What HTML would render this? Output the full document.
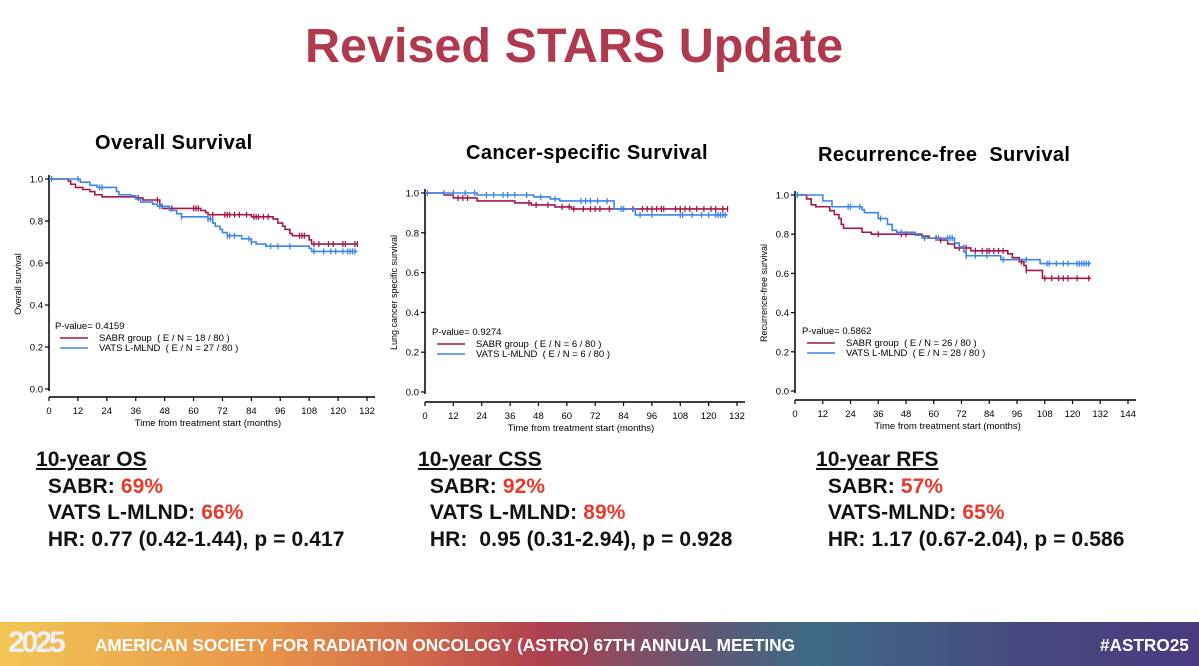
<!DOCTYPE html>
<html><head><meta charset="utf-8"><style>
body{margin:0;width:1199px;height:666px;background:#fff;position:relative;overflow:hidden;font-family:"Liberation Sans",Arial,sans-serif}
.t{position:absolute;white-space:nowrap}
.stat{position:absolute;font-weight:bold;font-size:21px;color:#111;letter-spacing:0.1px;line-height:26.5px}
.stat u{font-size:21px}
.r{color:#e8392a}
#footer{position:absolute;left:0;top:622px;width:1199px;height:44px;background:linear-gradient(90deg,#f2c556 0%,#e8954a 22%,#d06a4a 35%,#b0404f 45%,#5a5a78 60%,#3e6a85 68%,#474a80 85%,#4b3a80 100%)}
svg text{white-space:pre}
</style></head><body>
<div class="t" style="left:305px;top:18px;font-size:48.5px;font-weight:bold;color:#b0384f">Revised STARS Update</div>
<div class="t" style="left:95px;top:132px;font-size:20px;font-weight:bold;letter-spacing:0.4px">Overall Survival</div>
<div class="t" style="left:466px;top:142px;font-size:20px;font-weight:bold;letter-spacing:0.4px">Cancer-specific Survival</div>
<div class="t" style="left:818px;top:144px;font-size:20px;font-weight:bold;letter-spacing:0.4px">Recurrence-free&nbsp; Survival</div>
<svg id="svg" width="1199" height="666" style="position:absolute;left:0;top:0"></svg>
<div class="stat" style="left:36px;top:447px"><u>10-year OS</u><br>&nbsp; SABR: <span class="r">69%</span><br>&nbsp; VATS L-MLND: <span class="r">66%</span><br>&nbsp; HR: 0.77 (0.42-1.44), p = 0.417</div>
<div class="stat" style="left:418px;top:447px"><u>10-year CSS</u><br>&nbsp; SABR: <span class="r">92%</span><br>&nbsp; VATS L-MLND: <span class="r">89%</span><br>&nbsp; HR:&nbsp; 0.95 (0.31-2.94), p = 0.928</div>
<div class="stat" style="left:816px;top:447px"><u>10-year RFS</u><br>&nbsp; SABR: <span class="r">57%</span><br>&nbsp; VATS-MLND: <span class="r">65%</span><br>&nbsp; HR: 1.17 (0.67-2.04), p = 0.586</div>
<div id="footer">
<div class="t" style="left:8px;top:4px;font-size:30px;font-weight:bold;color:#eef0f4;letter-spacing:-3px">2025</div>
<div class="t" style="left:95px;top:13px;font-size:17.2px;font-weight:bold;color:#fff;letter-spacing:0px">AMERICAN SOCIETY FOR RADIATION ONCOLOGY (ASTRO) 67TH ANNUAL MEETING</div>
<div class="t" style="left:1100px;top:13px;font-size:17.2px;font-weight:bold;color:#fff">#ASTRO25</div>
</div>
<script>
// ---- data ----
const osSabrT=[8,9,11,14,17,19,22,36,39,46,47,63,65,66,84,93,95,97,98,100,101,108,109];
const osSabrS=[0.99,0.975,0.96,0.95,0.94,0.925,0.915,0.91,0.90,0.875,0.86,0.85,0.84,0.83,0.82,0.81,0.79,0.775,0.76,0.74,0.73,0.71,0.69];
const osSabrC=[37,45,51,60,61,62,68,73,74,75,77,79,82,85,86,87,89,91,104,105,106,110,112,116,118,122,123,127,128];
const osVatsT=[13,17,20,28,29,34,36,38,43,45,50,53,55,66,68,69,71,72,74,80,84,86,90,108,109];
const osVatsS=[0.985,0.97,0.96,0.94,0.925,0.92,0.905,0.89,0.88,0.87,0.85,0.835,0.82,0.81,0.79,0.775,0.76,0.745,0.73,0.715,0.70,0.69,0.68,0.67,0.655];
const osVatsC=[1,12,21,22,46,47,55,66,67,74,75,77,83,84,92,95,100,110,114,117,119,122,124,125,126,127];
const cssSabrT=[8,12,22,38,45,55,62];
const cssSabrS=[0.99,0.975,0.96,0.95,0.94,0.93,0.92];
const cssSabrC=[14,16,18,44,47,52,58,61,63,67,70,72,74,78,84,88,92,94,96,98,100,101,106,108,110,112,115,118,121,123,126,128];
const cssVatsT=[22,46,53,57,80,89];
const cssVatsS=[0.99,0.98,0.97,0.96,0.92,0.89];
const cssVatsC=[1,8,12,17,21,26,29,33,35,38,43,49,55,66,68,70,73,77,83,84,91,96,108,109,113,117,120,123,124,125,126,127];
const rfsSabrT=[5,7,9,15,17,19,20,21,29,33,55,58,62,66,69,76,92,94,97,99,100,107];
const rfsSabrS=[0.98,0.95,0.94,0.92,0.90,0.88,0.85,0.83,0.81,0.80,0.79,0.78,0.77,0.75,0.73,0.715,0.70,0.68,0.66,0.64,0.615,0.575];
const rfsSabrC=[36,46,48,61,63,71,73,74,78,81,83,84,86,88,90,98,100,108,111,114,116,118,122,127];
const rfsVatsT=[12,16,29,30,36,40,42,44,52,55,69,71,73,74,89,106];
const rfsVatsS=[0.97,0.94,0.925,0.91,0.88,0.85,0.82,0.81,0.795,0.78,0.755,0.735,0.71,0.69,0.67,0.65];
const rfsVatsC=[1,23,24,28,37,46,56,62,66,67,68,74,78,83,90,100,109,110,113,116,118,122,123,124,125,126,127];
const yTicks=[0,0.2,0.4,0.6,0.8,1.0];
const yTickLabels=["0.0","0.2","0.4","0.6","0.8","1.0"];
const xTicks132=[0,12,24,36,48,60,72,84,96,108,120,132];
const xTicks144=[0,12,24,36,48,60,72,84,96,108,120,132,144];
const SABR="#a3174e",VATS="#3b86e8";
const svg=document.getElementById('svg');
const NS="http://www.w3.org/2000/svg";
function mk(tag,a,txt){const e=document.createElementNS(NS,tag);for(const k in a)e.setAttribute(k,a[k]);if(txt!==undefined)e.textContent=txt;svg.appendChild(e);return e;}
function chart(c){
  const X=t=>c.x0+(t-0)/c.xmax*(c.x1-c.x0);
  const Y=s=>c.y0-s*(c.y0-c.y1);
  let e=mk('line',{x1:c.x0,y1:c.y1-4,x2:c.x0,y2:c.y0+2,stroke:'#000','stroke-width':1.5});
  
  
  yTicks.forEach((v,i)=>{mk('line',{x1:c.x0-4,x2:c.x0,y1:Y(v),y2:Y(v),stroke:'#000','stroke-width':1.2});
    const t=mk('text',{x:c.x0-6,y:Y(v)+3.5,'font-size':9.5,'text-anchor':'end','font-family':'Liberation Sans'},yTickLabels[i]);
    
    });
  const ax=c.xmax===144?xTicks144:xTicks132;
  e=mk('line',{x1:c.x0,y1:c.ax,x2:X(ax[ax.length-1])+8,y2:c.ax,stroke:'#000','stroke-width':1.5});
  
  
  ax.forEach(v=>{mk('line',{x1:X(v),x2:X(v),y1:c.ax,y2:c.ax+4,stroke:'#000','stroke-width':1.2});
    const t=mk('text',{x:X(v),y:c.ax+17,'font-size':9.5,'text-anchor':'middle','font-family':'Liberation Sans'},String(v));
    
    });
  e=mk('text',{x:(c.x0+X(132))/2,y:c.ax+29,'font-size':9.5,'text-anchor':'middle','font-family':'Liberation Sans'},'Time from treatment start (months)');
  
  
  const my=(c.y0+c.y1)/2;
  e=mk('text',{x:c.x0-28,y:my,'font-size':9,'text-anchor':'middle','font-family':'Liberation Sans',transform:`rotate(-90 ${c.x0-28} ${my})`},c.ytitle);
  
  
  [[c.sT,c.sS,c.sC,SABR,'sabr'],[c.vT,c.vS,c.vC,VATS,'vats']].forEach(([T,S,C,col,nm])=>{
    let d=`M${X(0)},${Y(1)}`;
    T.forEach((t,i)=>{d+=` H${X(t)} V${Y(S[i])}`;});
    d+=` H${X(128)}`;
    const p=mk('path',{d:d,fill:'none',stroke:col,'stroke-width':1.6});
    
    
    C.forEach(ct=>{let sv=1;T.forEach((t,i)=>{if(t<=ct)sv=S[i];});
      const l=mk('line',{x1:X(ct),x2:X(ct),y1:Y(sv)-3,y2:Y(sv)+3,stroke:col,'stroke-width':1.3});
      
      });
  });
  e=mk('text',{x:c.lx,y:c.ly,'font-size':9.5,'font-family':'Liberation Sans'},'P-value= '+c.p);
  
  
  [[SABR,'SABR group  ( E / N = '+c.eS+' / 80 )'],[VATS,'VATS L-MLND  ( E / N = '+c.eV+' / 80 )']].forEach(([col,txt],i)=>{
    const yy=c.ly+12+i*10;
    mk('line',{x1:c.lx+5,x2:c.lx+33,y1:yy-3,y2:yy-3,stroke:col,'stroke-width':1.6});
    const t=mk('text',{x:c.lx+44,y:yy,'font-size':9.5,'font-family':'Liberation Sans'},txt);
    
    
  });
}
chart({id:'os',x0:49,x1:367,xmax:132,y0:389,y1:179,ax:397,ytitle:'Overall survival',sT:osSabrT,sS:osSabrS,sC:osSabrC,vT:osVatsT,vS:osVatsS,vC:osVatsC,lx:55,ly:329,p:'0.4159',eS:18,eV:27});
chart({id:'css',x0:425,x1:737,xmax:132,y0:392,y1:193,ax:402,ytitle:'Lung cancer specific survival',sT:cssSabrT,sS:cssSabrS,sC:cssSabrC,vT:cssVatsT,vS:cssVatsS,vC:cssVatsC,lx:432,ly:335,p:'0.9274',eS:6,eV:6});
chart({id:'rfs',x0:795,x1:1128,xmax:144,y0:391,y1:195,ax:400,ytitle:'Recurrence-free survival',sT:rfsSabrT,sS:rfsSabrS,sC:rfsSabrC,vT:rfsVatsT,vS:rfsVatsS,vC:rfsVatsC,lx:802,ly:334,p:'0.5862',eS:26,eV:28});
</script>
</body></html>
